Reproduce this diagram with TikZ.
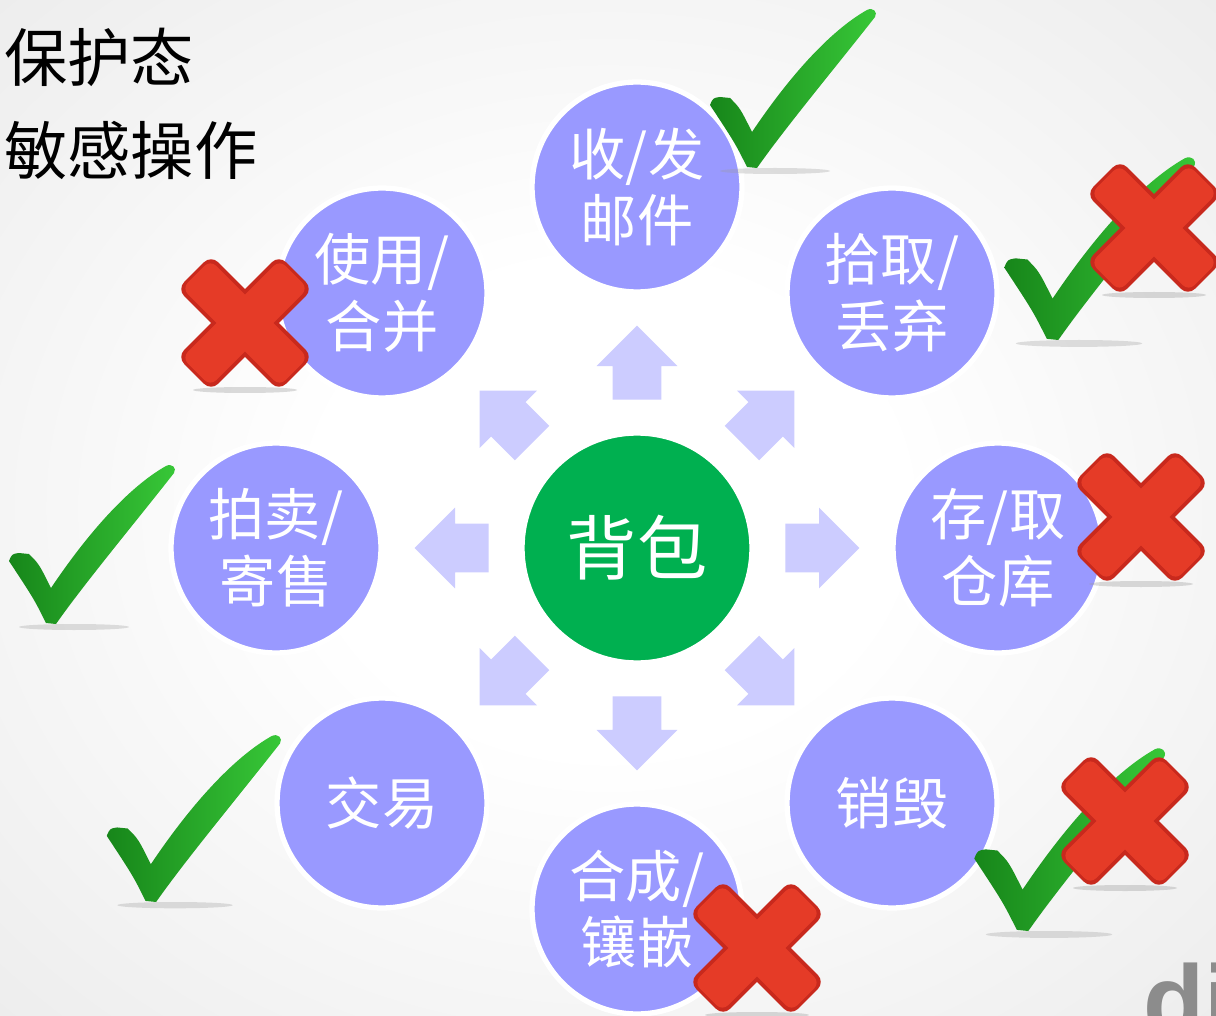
\documentclass[tikz,border=0pt]{standalone}
\usepackage{fontspec}
\setmainfont{Noto Sans CJK SC}
\newfontfamily\markFont{Liberation Sans}
\usetikzlibrary{shapes.arrows}
\definecolor{bagGreen}{HTML}{00B050}
\definecolor{opPurple}{HTML}{9999FF}
\definecolor{arrowLilac}{HTML}{CCCCFF}
\definecolor{crossRed}{HTML}{E53B27}
\definecolor{crossDark}{HTML}{C8291D}
\definecolor{checkLight}{HTML}{38C838}
\definecolor{checkDark}{HTML}{17861A}
\newcommand{\pxUnit}{0.02cm}
\newcommand{\opSize}{4.2cm}
\newcommand{\bagSize}{4.6cm}
\pgfdeclareradialshading{bgGlow}{\pgfpoint{0bp}{0bp}}{color(0bp)=(white); color(12bp)=(white); color(72bp)=(black!18)}
\tikzset{
  opCircle/.style={circle, fill=opPurple, draw=white, line width=3pt,
    minimum size=\opSize, inner sep=0pt, text=white, align=center,
    font=\fontsize{32}{38}\selectfont},
  bagCircle/.style={circle, fill=bagGreen, draw=white, line width=3pt,
    minimum size=\bagSize, inner sep=0pt, text=white,
    font=\fontsize{40}{40}\selectfont},
  spreadArrow/.style={single arrow, fill=arrowLilac, draw=none, anchor=tail,
    inner xsep=0pt, inner ysep=0.48cm, minimum height=1.48cm,
    single arrow head extend=0.32cm, single arrow head indent=0cm},
  titleText/.style={anchor=base west, inner sep=0pt, font=\fontsize{36}{36}\selectfont}
}
% red cross, centred at #1
\newcommand{\drawCross}[1]{%
  \begin{scope}[shift={#1}]
    \fill[black!40,opacity=.35] (0,67) ellipse (52 and 3);
    \fill[crossDark,rounded corners=0.2cm,rotate=45] (-72,-24) rectangle (72,24);
    \fill[crossDark,rounded corners=0.2cm,rotate=-45] (-72,-24) rectangle (72,24);
    \fill[crossRed,rounded corners=0.16cm,rotate=45] (-69,-20) rectangle (69,20);
    \fill[crossRed,rounded corners=0.16cm,rotate=-45] (-69,-20) rectangle (69,20);
  \end{scope}}
% green check, bottom point at #1, scaled by #2
\newcommand{\drawCheck}[2]{%
  \begin{scope}[shift={#1},scale=#2]
    \fill[black!40,opacity=.3] (20,3) ellipse (55 and 3);
    \shade[left color=checkDark, right color=checkLight]
      (-45,-63) .. controls (-42,-70) .. (-35,-71) -- (-25,-70)
      .. controls (-15,-60) .. (-3,-36)
      .. controls (40,-100) and (80,-140) .. (112,-158)
      .. controls (118,-161) and (123,-156) .. (120,-151)
      .. controls (80,-100) and (30,-40) .. (2,0) -- (-8,-1)
      .. controls (-20,-25) .. (-45,-63) -- cycle;
  \end{scope}}

\begin{document}
\begin{tikzpicture}[x=\pxUnit, y=-\pxUnit]
\useasboundingbox (0,0) rectangle (1216,1016);
\clip (0,0) rectangle (1216,1016);
\shade[shading=bgGlow] (0,0) rectangle (1216,1016);

\node[titleText] (titleA) at (4,82) {保护态};
\node[titleText] (titleB) at (4,175) {敏感操作};

\node[bagCircle] (bag) at (637,548) {背包};

\node[spreadArrow, rotate=90] (arrowN) at (637,400) {};
\node[spreadArrow, rotate=45] (arrowNE) at (741.7,443.3) {};
\node[spreadArrow, rotate=0] (arrowE) at (785,548) {};
\node[spreadArrow, rotate=-45] (arrowSE) at (741.7,652.7) {};
\node[spreadArrow, rotate=-90] (arrowS) at (637,696) {};
\node[spreadArrow, rotate=-135] (arrowSW) at (532.3,652.7) {};
\node[spreadArrow, rotate=180] (arrowW) at (489,548) {};
\node[spreadArrow, rotate=135] (arrowNW) at (532.3,443.3) {};

\node[opCircle] (mail) at (637,187) {收/发\\邮件};
\node[opCircle] (pick) at (892,293) {拾取/\\丢弃};
\node[opCircle] (store) at (998,548) {存/取\\仓库};
\node[opCircle] (destroy) at (892,803) {销毁};
\node[opCircle] (craft) at (637,909) {合成/\\镶嵌};
\node[opCircle] (trade) at (382,803) {交易};
\node[opCircle] (auction) at (276,548) {拍卖/\\寄售};
\node[opCircle] (use) at (382,293) {使用/\\合并};

\drawCheck{(755,168)}{1}
\drawCheck{(1056,340)}{1.15}
\drawCheck{(1026,931)}{1.15}
\drawCheck{(54,624)}{1}
\drawCheck{(154,902)}{1.05}

\drawCross{(1154,228)}
\drawCross{(1141,517)}
\drawCross{(1125,821)}
\drawCross{(757,948)}
\drawCross{(245,323)}

\node[anchor=base west, inner sep=0pt, text=black!45,
  font=\markFont\bfseries\fontsize{57}{57}\selectfont] (wmark) at (1143,1035) {di};
\end{tikzpicture}
\end{document}
